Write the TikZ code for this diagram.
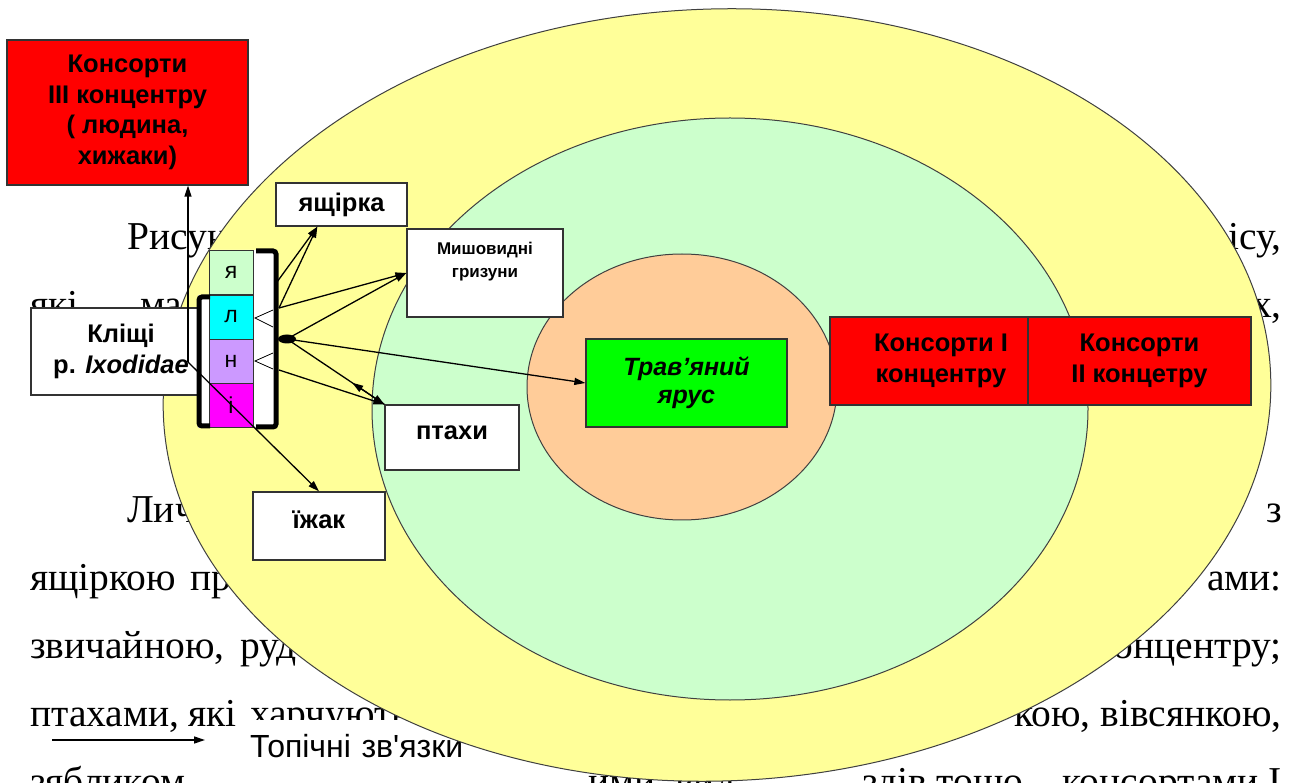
\documentclass[tikz,border=0pt]{standalone}
\usepackage{fontspec}
\setmainfont{Liberation Serif}
\newfontfamily\arialf{Liberation Sans}
\usetikzlibrary{arrows.meta,calc,shapes.geometric}
\definecolor{ylw}{HTML}{FFFF99}
\definecolor{lgreen}{HTML}{CCFFCC}
\definecolor{peach}{HTML}{FFCC99}
\definecolor{lav}{HTML}{CC99FF}
\definecolor{brightgreen}{HTML}{00FF00}
\definecolor{cyanc}{HTML}{00FFFF}
\definecolor{magc}{HTML}{FF00FF}
\definecolor{redc}{HTML}{FF0000}
\tikzset{
  bodyl/.style={anchor=base west, inner sep=0pt, font=\fontsize{39.5}{46}\selectfont},
  bodyr/.style={anchor=base east, inner sep=0pt, font=\fontsize{39.5}{46}\selectfont},
  box/.style={draw=black!80, line width=1.3pt, inner sep=0pt, align=center,
    font=\arialf\bfseries\fontsize{25.5}{30.5}\selectfont},
  redbox/.style={box, fill=redc},
  wbox/.style={box, fill=white},
  ring/.style={ellipse, draw=black!75, line width=1pt, inner sep=0pt, outer sep=0pt},
  cell/.style={draw=black!80, line width=0.8pt, minimum width=44pt, minimum height=44pt,
    inner sep=0pt, font=\arialf\fontsize{23}{26}\selectfont},
  conn/.style={line width=1.3pt, -{Triangle[length=11pt,width=7pt]}},
  brk/.style={line width=5pt, rounded corners=3pt},
}
\begin{document}
\begin{tikzpicture}[x=1pt,y=-1pt]
\useasboundingbox (0,0) rectangle (1294,783);
\clip (0,0) rectangle (1294,783);
% background page text
\node[bodyl] (t1a) at (127,250) {Рисун};
\node[bodyr] (t1b) at (1282,250) {ісу,};
\node[bodyl] (t2a) at (30,318) {які};
\node[bodyl] (t2b) at (140,318) {ма};
\node[bodyr] (t2c) at (1282,318) {х,};
\node[bodyl] (t5a) at (127,522) {Лич};
\node[bodyr] (t5b) at (1282,522) {з};
\node[bodyl] (t6a) at (30,590) {ящіркою};
\node[bodyl] (t6b) at (190,590) {пр};
\node[bodyr] (t6c) at (1282,590) {ами:};
\node[bodyl] (t7a) at (30,658) {звичайною,};
\node[bodyl] (t7b) at (240,658) {руд};
\node[bodyr] (t7c) at (1282,658) {онцентру;};
\node[bodyl] (t8a) at (30,726) {птахами,};
\node[bodyl] (t8b) at (188,726) {які};
\node[bodyl] (t8c) at (250,726) {харчують};
\node[bodyr] (t8d) at (1282,726) {кою, вівсянкою,};
\node[bodyl] (t9a) at (30,794) {зябликом,};
\node[bodyl] (t9b) at (588,794) {ими, вид};
\node[bodyr] (t9d) at (1282,794) {здів тощо – консортами І};
% legend
\node[fill=white, anchor=west, inner xsep=10pt, inner ysep=0pt, minimum height=52pt,
  text width=320pt, align=left, font=\arialf\fontsize{32}{36}\selectfont] (leg) at (240,746) {Топічні зв'язки};
\coordinate (ls) at (52,740);
\coordinate (le) at (205,740);
\draw[conn] (ls) -- (le);
% concentric zones
\node[ring, fill=ylw, minimum width=1108pt, minimum height=772pt, rotate=2] (outer) at (717,395) {};
\node[ring, fill=lgreen, minimum width=716pt, minimum height=582pt] (middle) at (730,409) {};
\node[ring, fill=peach, minimum width=310pt, minimum height=266pt] (inner) at (682,387) {};
% boxes
\node[redbox, minimum width=241pt, minimum height=145pt] (red3) at (127.5,112.5)
  {Консорти\\III концентру\\( людина,\\хижаки)};
\node[wbox, minimum width=131pt, minimum height=43pt] (yashch) at (341.5,204.5) {ящірка};
\node[wbox, minimum width=156pt, minimum height=88pt] (mysh) at (485,273) {};
\node[inner sep=0pt, align=center, font=\arialf\bfseries\fontsize{17}{23}\selectfont,
  anchor=north] (myshtxt) at (485,242) {Мишовидні\\гризуни};
\node[wbox, minimum width=134pt, minimum height=65pt, text depth=10pt] (ptahi) at (452,437.5) {птахи};
\node[wbox, minimum width=132pt, minimum height=68pt, text depth=12pt] (yizhak) at (319,526) {їжак};
\node[box, fill=brightgreen, minimum width=201pt, minimum height=88pt,
  font=\arialf\bfseries\itshape\fontsize{25}{28}\selectfont] (trav) at (686.5,383) {Трав’яний\\ярус};
\node[redbox, minimum width=198pt, minimum height=88pt] (red1) at (929,361)
  {\hspace*{24pt}Консорти І\\\hspace*{24pt}концентру};
\node[redbox, minimum width=223pt, minimum height=88pt] (red2) at (1139.5,361) {Консорти\\ІІ концетру};
\node[wbox, minimum width=180pt, minimum height=87pt] (klishchi) at (121,351.5)
  {Кліщі\\р. \textit{Ixodidae}};
% tick stages column
\fill[white] (198,295) -- (209,295) -- (209,250) -- (276,250) -- (276,428) -- (198,428) -- cycle;
\node[cell, fill=lgreen] (cya) at (231,272.5) {я};
\node[cell, fill=cyanc] (cl) at (231,317) {л};
\node[cell, fill=lav] (cn) at (231,361) {н};
\node[cell, fill=magc] (ci) at (231,405) {і};
\draw[brk] (256,251) -- (276,251) -- (276,427) -- (256,427);
\draw[brk] (210,297) -- (199,297) -- (199,426) -- (210,426);
\draw[line width=0.8pt] (273,310) -- (255,318) -- (273,327);
\draw[line width=0.8pt] (273,353) -- (255,361) -- (273,369);
% connectors
\coordinate (hub) at (287,339);
\coordinate (b1) at (277,282);
\coordinate (b2) at (279,308);
\coordinate (b3) at (279,370);
\coordinate (kl) at (188,362);
\fill (hub) ellipse [x radius=9pt, y radius=4.5pt];
\coordinate (yt) at ($(yashch.south west)+(42,0)$);
\draw[conn] (b1) -- (yt);
\draw[conn] (b2) -- (yt);
\draw[conn] (b2) -- (mysh.west);
\draw[conn] (hub) -- (mysh.west);
\draw[conn] (hub) -- (trav.west);
\draw[conn] (hub) -- (ptahi.north west);
\draw[conn] (b3) -- (ptahi.north west);
\draw[conn] (ptahi.north west) -- ($(ptahi.north west)!0.33!(hub)$);
\draw[conn] (kl) -- (yizhak.north);
\draw[conn] (kl) -- (kl |- red3.south);
\end{tikzpicture}
\end{document}
